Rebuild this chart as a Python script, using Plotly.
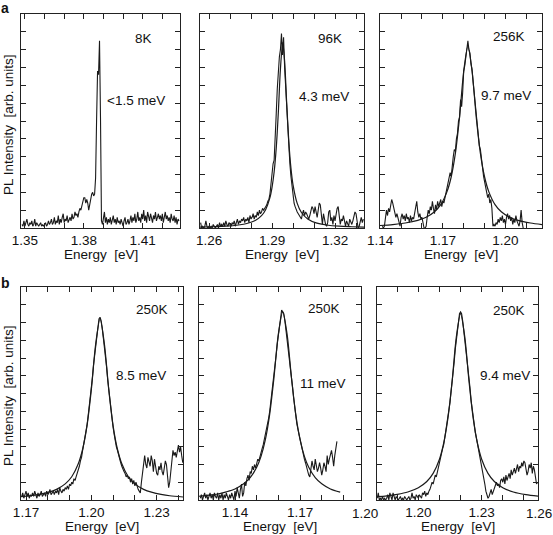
import numpy as np
import plotly.graph_objects as go

W, H = 553, 535
FONT = "Liberation Sans, Arial, Helvetica, sans-serif"

# ----------------------------- DATA -----------------------------
# Panel a1 : 8 K  (PL spectrum, no fit)
a1_e0, a1_de = 1.3485, 0.0005
a1_pl = [
    2, 1, 4, 1, 3, 5, 2, 1, 3, 2,
    4, 1, 2, 5, 1, 3, 2, 1, 2, 3,
    1, 2, 1, 2, 3, 1, 2, 4, 2, 3,
    5, 2, 3, 6, 2, 4, 3, 7, 2, 5,
    3, 6, 8, 3, 5, 4, 7, 3, 5, 6,
    4, 8, 5, 6, 9, 7, 8, 6, 9, 11,
    10, 12, 15, 17, 17, 14, 16, 14, 10, 14,
    18, 19, 20, 18, 19, 28, 60, 88, 86, 105,
    62, 4, 2, 7, 9, 3, 6, 2, 5, 3,
    6, 2, 4, 7, 3, 5, 2, 6, 3, 4,
    2, 5, 3, 1, 4, 6, 2, 3, 5, 2,
    4, 7, 3, 6, 4, 8, 3, 5, 9, 4,
    6, 3, 8, 5, 10, 4, 7, 3, 9, 5,
    4, 8, 6, 3, 7, 5, 9, 4, 6, 8,
    5, 7, 4, 8, 3, 6, 9, 5, 7, 4,
    6, 3, 8, 5, 4, 7, 3, 6, 2, 5,
    4]
a1_fit_e, a1_fit_pl = [], []

# Panel a2 : 96 K
a2_e0, a2_de = 1.2560, 0.0005
a2_pl = [
    3, 0, 1, 0, 1, 4, 1, 0, 1, 0,
    1, 0, 2, 1, 0, 1, 2, 0, 3, 1,
    2, 1, 3, 1, 4, 2, 1, 3, 2, 1,
    3, 2, 4, 1, 3, 5, 2, 4, 3, 5,
    4, 6, 3, 5, 4, 6, 3, 7, 5, 6,
    8, 5, 7, 6, 9, 7, 10, 8, 9, 11,
    10, 11, 12, 13, 15, 16, 19, 24, 32, 36,
    38, 48, 64, 78, 88, 96, 100, 109, 97, 107,
    90, 79, 66, 54, 44, 36, 29, 23, 18, 14,
    12, 10, 9, 8, 7, 6, 5, 8, 10, 7,
    9, 8, 6, 5, 7, 10, 12, 11, 8, 12,
    9, 6, 10, 14, 13, 5, 2, 8, 4, 2,
    1, 3, 9, 10, 4, 6, 2, 7, 4, 9,
    11, 12, 6, 2, 5, 4, 7, 3, 1, 4,
    2, 1, 5, 3, 2, 4, 6, 9, 8, 2,
    0, 1, 4, 6, 3, 5]
a2_fit_e = [1.2557, 1.262, 1.268, 1.274, 1.278, 1.282, 1.285, 1.287, 1.289, 1.290,
            1.291, 1.292, 1.293, 1.294, 1.2951, 1.296, 1.297, 1.298, 1.299, 1.300,
            1.302, 1.304, 1.307, 1.311, 1.316, 1.322, 1.328, 1.3338]
a2_fit_pl = [0.5, 0.7, 1.0, 1.7, 2.5, 4.2, 6.9, 10.4, 17.0, 22.8,
             31.4, 44.8, 64.8, 89.2, 104, 93.6, 69.6, 48.3, 33.7, 24.2,
             13.8, 8.7, 5.1, 2.9, 1.7, 1.0, 0.7, 0.5]

# Panel a3 : 256 K
a3_e0, a3_de = 1.1410, 0.0005
a3_pl = [
    1, 0, 1, 6, 10, 7, 11, 9, 13, 16,
    14, 11, 8, 6, 8, 5, 2, 1, 6, 8,
    5, 7, 4, 8, 5, 6, 3, 7, 4, 6,
    5, 8, 12, 15, 9, 6, 8, 5, 6, 3,
    0, 0, 1, 6, 10, 8, 12, 10, 15, 11,
    8, 13, 10, 15, 12, 14, 16, 12, 15, 14,
    17, 20, 22, 25, 28, 31, 29, 36, 40, 44,
    43, 50, 53, 60, 62, 72, 68, 76, 88, 91,
    96, 101, 105, 100, 98, 92, 89, 82, 76, 69,
    63, 57, 52, 46, 44, 38, 31, 29, 26, 22,
    20, 17, 19, 14, 16, 11, 1, 2, 1, 3,
    2, 5, 3, 6, 4, 7, 3, 5, 2, 6,
    8, 5, 7, 4, 6, 2, 5, 3, 7, 4,
    2, 1, 4, 10, 3, 0]
a3_fit_e = [1.1399, 1.146, 1.152, 1.158, 1.162, 1.166, 1.169, 1.172, 1.174, 1.176,
            1.178, 1.180, 1.182, 1.184, 1.186, 1.188, 1.190, 1.192, 1.195, 1.198,
            1.202, 1.206, 1.212, 1.2175]
a3_fit_pl = [1.4, 1.9, 2.8, 4.3, 6.0, 9.1, 13.1, 20.4, 28.6, 41.8,
             62.2, 87.9, 102, 87.9, 62.2, 41.8, 28.6, 20.4, 13.1, 9.1,
             6.0, 4.3, 2.8, 1.9]

# Panel b1 : 250 K
b1_e0, b1_de = 1.1680, 0.0005
b1_pl = [
    2, 4, 1, 3, 5, 2, 4, 1, 3, 2,
    4, 2, 5, 3, 1, 4, 2, 3, 5, 2,
    3, 4, 2, 5, 3, 4, 6, 3, 4, 5,
    3, 5, 4, 6, 3, 7, 5, 4, 6, 5,
    7, 6, 8, 6, 9, 8, 10, 9, 12, 11,
    13, 15, 16, 19, 22, 24, 28, 31, 35, 38,
    42, 47, 52, 58, 63, 69, 76, 82, 88, 93,
    98, 102, 103, 101, 97, 92, 88, 81, 75, 68,
    62, 55, 50, 46, 41, 37, 33, 30, 28, 25,
    22, 21, 19, 17, 16, 15, 13, 14, 12, 13,
    10, 12, 9, 11, 8, 10, 7, 6, 5, 4,
    10, 16, 22, 25, 20, 18, 24, 21, 19, 25,
    22, 16, 23, 19, 15, 14, 19, 17, 21, 16,
    14, 18, 22, 20, 12, 7, 10, 16, 22, 28,
    25, 27, 24, 29, 31, 27, 30, 25, 21]
b1_fit_e = [1.1677, 1.172, 1.176, 1.180, 1.184, 1.188, 1.191, 1.194, 1.196, 1.198,
            1.200, 1.202, 1.204, 1.206, 1.208, 1.210, 1.212, 1.214, 1.217, 1.220,
            1.224, 1.228, 1.232, 1.236, 1.2421]
b1_fit_pl = [1.9, 2.4, 3.2, 4.3, 6.0, 9.1, 13.1, 20.4, 28.6, 41.8,
             62.2, 87.9, 102, 87.9, 62.2, 41.8, 28.6, 20.4, 13.1, 9.1,
             6.0, 4.3, 3.2, 2.4, 1.7]

# Panel b2 : 250 K
b2_e0, b2_de = 1.1240, 0.0005
b2_pl = [
    1, 3, 0, 2, 4, 1, 3, 0, 2, 4,
    1, 3, 0, 4, 2, 1, 4, 0, 3, 1,
    4, 0, 3, 1, 4, 2, 0, 3, 1, 4,
    2, 0, 5, 2, 7, 3, 1, 6, 9, 2,
    4, 10, 8, 12, 14, 11, 16, 15, 19, 17,
    20, 18, 21, 23, 22, 25, 27, 29, 31, 34,
    36, 38, 42, 46, 50, 55, 59, 64, 70, 76,
    82, 88, 93, 98, 103, 107, 106, 105, 101, 96,
    92, 87, 82, 75, 70, 64, 58, 52, 48, 43,
    40, 37, 33, 30, 29, 26, 23, 21, 18, 16,
    14, 13, 18, 22, 19, 17, 23, 20, 16, 18,
    21, 18, 14, 17, 21, 19, 16, 25, 20, 23,
    25, 28, 24, 19, 25, 30, 33]
b2_fit_e = [1.1234, 1.128, 1.132, 1.136, 1.140, 1.144, 1.147, 1.150, 1.152, 1.154,
            1.156, 1.158, 1.160, 1.162, 1.164, 1.166, 1.168, 1.170, 1.172, 1.174,
            1.177, 1.180, 1.184, 1.1885]
b2_fit_pl = [2.1, 2.7, 3.4, 4.6, 6.2, 9.1, 12.6, 18.4, 24.6, 34.0,
             48.4, 69.3, 93.6, 106, 93.6, 69.3, 48.4, 34.0, 24.6, 18.4,
             12.6, 9.1, 6.2, 4.4]

# Panel b3 : 250 K
b3_e0, b3_de = 1.1805, 0.0005
b3_pl = [
    1, 4, 0, 1, 0, 2, 0, 1, 0, 1,
    3, 0, 4, 1, 0, 4, 1, 0, 2, 1,
    0, 1, 2, 0, 1, 0, 2, 1, 0, 1,
    2, 0, 1, 4, 1, 2, 0, 3, 2, 1,
    3, 2, 1, 4, 3, 5, 2, 4, 3, 5,
    6, 8, 10, 9, 12, 14, 13, 16, 19, 21,
    23, 26, 29, 31, 35, 38, 42, 47, 50, 55,
    61, 66, 72, 78, 85, 91, 96, 101, 105, 106,
    105, 101, 96, 90, 85, 80, 74, 68, 63, 56,
    51, 46, 41, 38, 35, 32, 28, 25, 22, 19,
    17, 13, 9, 5, 3, 1, 2, 4, 6, 3,
    5, 7, 9, 10, 8, 9, 7, 11, 12, 10,
    13, 9, 14, 11, 13, 15, 12, 17, 14, 16,
    18, 15, 17, 20, 16, 19, 18, 21, 19, 22,
    21, 17, 14, 16, 20, 18, 21, 15, 19, 17,
    12, 9, 10]
b3_fit_e = [1.1804, 1.185, 1.190, 1.195, 1.200, 1.204, 1.207, 1.210, 1.212, 1.214,
            1.216, 1.218, 1.220, 1.222, 1.224, 1.226, 1.228, 1.230, 1.233, 1.236,
            1.240, 1.245, 1.251, 1.2567]
b3_fit_pl = [1.85, 2.35, 3.2, 4.5, 6.9, 10.4, 15.0, 23.0, 32.0, 46.0,
             66.9, 91.9, 105, 91.9, 66.9, 46.0, 32.0, 23.0, 15.0, 10.4,
             6.9, 4.5, 3.0, 2.15]

# tick values (every 10 meV) and labelled ticks
a1_ticks = [1.35, 1.36, 1.37, 1.38, 1.39, 1.40, 1.41, 1.42]
a1_labels = [1.35, 1.38, 1.41]
a2_ticks = [1.26, 1.27, 1.28, 1.29, 1.30, 1.31, 1.32, 1.33]
a2_labels = [1.26, 1.29, 1.32]
a3_ticks = [1.14, 1.15, 1.16, 1.17, 1.18, 1.19, 1.20, 1.21]
a3_labels = [1.14, 1.17, 1.20]
b1_ticks = [1.17, 1.18, 1.19, 1.20, 1.21, 1.22, 1.23, 1.24]
b1_labels = [1.17, 1.20, 1.23]
b2_ticks = [1.13, 1.14, 1.15, 1.16, 1.17, 1.18, 1.19]
b2_labels = [1.14, 1.17, 1.20]
b3_ticks = [1.19, 1.20, 1.21, 1.22, 1.23, 1.24, 1.25]
b3_labels = [1.20, 1.23, 1.26]
y_ticks = [10, 20, 30, 40, 50, 60, 70, 80, 90, 100, 110]

temps = ["8K", "96K", "256K", "250K", "250K", "250K"]
widths = ["&lt;1.5 meV", "4.3 meV", "9.7 meV", "8.5 meV", "11 meV", "9.4 meV"]

# ----------------------------- LAYOUT -----------------------------
panels = [
    dict(e0=a1_e0, de=a1_de, pl=a1_pl, fe=a1_fit_e, fp=a1_fit_pl, xr=[1.348, 1.429],
         ticks=a1_ticks, labels=a1_labels, box=(21, 180, 14, 228), tp=(143, 39), wp=(136, 100)),
    dict(e0=a2_e0, de=a2_de, pl=a2_pl, fe=a2_fit_e, fp=a2_fit_pl, xr=[1.2557, 1.3338],
         ticks=a2_ticks, labels=a2_labels, box=(200, 364, 14, 228), tp=(330, 39), wp=(324, 97)),
    dict(e0=a3_e0, de=a3_de, pl=a3_pl, fe=a3_fit_e, fp=a3_fit_pl, xr=[1.1399, 1.2175],
         ticks=a3_ticks, labels=a3_labels, box=(380, 542, 14, 228), tp=(509, 36), wp=(506, 96)),
    dict(e0=b1_e0, de=b1_de, pl=b1_pl, fe=b1_fit_e, fp=b1_fit_pl, xr=[1.1677, 1.2421],
         ticks=b1_ticks, labels=b1_labels, box=(21, 183, 287, 500), tp=(152, 309), wp=(141, 375)),
    dict(e0=b2_e0, de=b2_de, pl=b2_pl, fe=b2_fit_e, fp=b2_fit_pl, xr=[1.1234, 1.1981],
         ticks=b2_ticks, labels=b2_labels, box=(199, 361, 287, 500), tp=(324, 308), wp=(323, 383)),
    dict(e0=b3_e0, de=b3_de, pl=b3_pl, fe=b3_fit_e, fp=b3_fit_pl, xr=[1.1804, 1.2567],
         ticks=b3_ticks, labels=b3_labels, box=(377, 538, 287, 500), tp=(509, 310), wp=(505, 375)),
]
title_off = [27, 27, 27, 26, 26, 26]

fig = go.Figure()
annotations = []


def px(x):
    return x / W


def py(y):
    return 1 - y / H


line_col = "#1a1a1a"
for k, p in enumerate(panels):
    n = k + 1
    xa = "x" if n == 1 else f"x{n}"
    ya = "y" if n == 1 else f"y{n}"
    e = np.round(p["e0"] + p["de"] * np.arange(len(p["pl"])), 5)
    fig.add_trace(go.Scatter(x=e, y=p["pl"], mode="lines", xaxis=xa, yaxis=ya,
                             line=dict(color=line_col, width=1.1), showlegend=False,
                             hoverinfo="skip"))
    if p["fe"]:
        fig.add_trace(go.Scatter(x=p["fe"], y=p["fp"], mode="lines", xaxis=xa, yaxis=ya,
                                 line=dict(color=line_col, width=1.2, shape="spline", smoothing=0.8),
                                 showlegend=False, hoverinfo="skip"))
    x0, x1, y0, y1 = p["box"]
    r0, r1 = p["xr"]
    ticktext = []
    for t in p["ticks"]:
        ticktext.append(f"{t:.2f}" if any(abs(t - l) < 1e-9 for l in p["labels"]) else "")
    axkey = "xaxis" if n == 1 else f"xaxis{n}"
    aykey = "yaxis" if n == 1 else f"yaxis{n}"
    fig.update_layout(**{
        axkey: dict(domain=[px(x0), px(x1)], range=[r0, r1], anchor=ya, automargin=False,
                    tickmode="array", tickvals=p["ticks"], ticktext=ticktext,
                    ticks="inside", ticklen=5, tickwidth=1, tickcolor="#222",
                    showline=True, linecolor="#222", linewidth=1, mirror="ticks",
                    showgrid=False, zeroline=False,
                    tickfont=dict(family=FONT, size=13.5, color="#111")),
        aykey: dict(domain=[py(y1), py(y0)], range=[0, 120], anchor=xa, automargin=False,
                    tickmode="array", tickvals=y_ticks, showticklabels=False,
                    ticks="inside", ticklen=5, tickwidth=1, tickcolor="#222",
                    showline=True, linecolor="#222", linewidth=1, mirror="ticks",
                    showgrid=False, zeroline=False),
    })
    # labels that sit beyond the axis end (kept inside the page)
    for l in p["labels"]:
        if l < r0 - 1e-9 or l > r1 + 1e-9:
            xp = x0 + (l - r0) / (r1 - r0) * (x1 - x0)
            anchor = "center"
            if xp + 13 > W:
                xp, anchor = W - 0.5, "right"
            annotations.append(dict(x=px(xp), y=py(y1 + 13), xref="paper", yref="paper",
                                    text=f"{l:.2f}", showarrow=False, xanchor=anchor,
                                    yanchor="middle", borderpad=0,
                                    font=dict(family=FONT, size=13.5, color="#111")))
    # temperature and linewidth
    for txt, pos in ((temps[k], p["tp"]), (widths[k], p["wp"])):
        annotations.append(dict(x=px(pos[0]), y=py(pos[1]), xref="paper", yref="paper",
                                text=txt, showarrow=False, xanchor="center", yanchor="middle",
                                font=dict(family=FONT, size=13.5, color="#111")))
    # x-axis title
    annotations.append(dict(x=px((x0 + x1) / 2), y=py(y1 + title_off[k]), xref="paper",
                            yref="paper", text="Energy\u00a0\u00a0[eV]", showarrow=False,
                            xanchor="center", yanchor="middle",
                            font=dict(family=FONT, size=13.5, color="#111")))

# y-axis titles
for yc in (125, 396):
    annotations.append(dict(x=px(8), y=py(yc), xref="paper", yref="paper",
                            text="PL Intensity\u00a0\u00a0[arb. units]", textangle=-90,
                            showarrow=False, xanchor="center", yanchor="middle",
                            font=dict(family=FONT, size=13.5, color="#111")))
# panel letters
for txt, (xx, yy) in (("a", (5, 8)), ("b", (5, 283))):
    annotations.append(dict(x=px(xx), y=py(yy), xref="paper", yref="paper",
                            text=f"<b>{txt}</b>", showarrow=False, xanchor="center",
                            yanchor="middle", font=dict(family=FONT, size=14, color="#111")))

fig.update_layout(template="none", width=W, height=H, autosize=False,
                  margin=dict(l=0, r=0, t=0, b=0, pad=0),
                  paper_bgcolor="white", plot_bgcolor="white",
                  annotations=annotations, showlegend=False)

fig.write_html("out.html", config={"displayModeBar": False, "staticPlot": True},
               post_script="document.body.style.margin='0px';")
